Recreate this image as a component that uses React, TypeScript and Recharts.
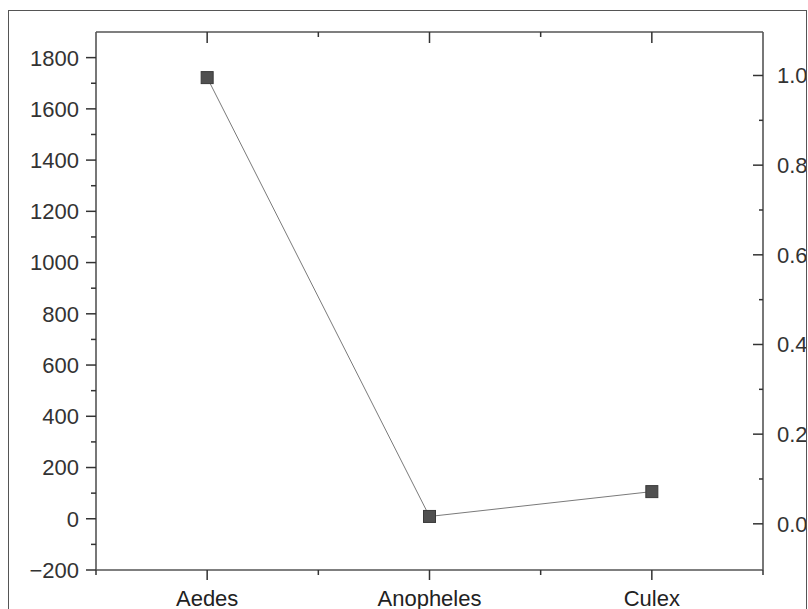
import { LineChart, Line, XAxis, YAxis } from 'recharts'

const categories = ['Aedes', 'Anopheles', 'Culex']
const counts = [1722, 9, 106]

const leftTicks = [-200, -100, 0, 100, 200, 300, 400, 500, 600, 700, 800, 900, 1000, 1100, 1200, 1300, 1400, 1500, 1600, 1700, 1800]
const rightTicks = [0, 0.1, 0.2, 0.3, 0.4, 0.5, 0.6, 0.7, 0.8, 0.9, 1.0]
const xTicks = [0.5, 1, 1.5, 2, 2.5, 3, 3.5]

const data = categories.map((name, i) => ({ pos: i + 1, name, count: counts[i] }))

const FONT = '"Liberation Sans", Arial, sans-serif'
const TICK = '#333'
const AXIS = '#555'

function LeftTick({ x, y, payload }: any) {
  const v = payload.value
  const major = v % 200 === 0
  return (
    <g>
      <line x1={x - (major ? 10 : 5)} x2={x} y1={y} y2={y} stroke={TICK} strokeWidth={1.5} />
      {major && (
        <text x={x - 17} y={y} dy="0.36em" textAnchor="end" fontFamily={FONT} fontSize={22} fill="#333">
          {v < 0 ? `\u2212${-v}` : v}
        </text>
      )}
    </g>
  )
}

// right axis: ticks point into the plot, labels sit outside
function RightTick({ x, y, payload }: any) {
  const v = payload.value
  const major = Math.round(v * 10) % 2 === 0
  return (
    <g>
      <line x1={x - (major ? 10 : 4)} x2={x} y1={y} y2={y} stroke={TICK} strokeWidth={1.5} />
      {major && (
        <text x={x + 14} y={y} dy="0.36em" textAnchor="start" fontFamily={FONT} fontSize={22} fill="#333">
          {v.toFixed(1)}
        </text>
      )}
    </g>
  )
}

function BottomTick({ x, y, payload }: any) {
  const v = payload.value
  const major = Number.isInteger(v)
  return (
    <g>
      <line x1={x} x2={x} y1={y} y2={y + (major ? 10 : 5)} stroke={TICK} strokeWidth={1.5} />
      {major && (
        <text x={x} y={y + 36} textAnchor="middle" fontFamily={FONT} fontSize={22} fill="#222">
          {categories[v - 1]}
        </text>
      )}
    </g>
  )
}

function TopTick({ x, y, payload }: any) {
  const v = payload.value
  if (v === 0.5 || v === 3.5) return <g />
  const major = Number.isInteger(v)
  return <line x1={x} x2={x} y1={y} y2={y + (major ? 11 : 5)} stroke={TICK} strokeWidth={1.5} />
}

function SquareDot({ cx, cy }: any) {
  return <rect x={cx - 6} y={cy - 6} width={12} height={12} fill="#505050" stroke="#3a3a3a" strokeWidth={1} />
}

export default function App() {
  return (
    <div style={{ position: 'absolute', left: 0, top: 0, width: 808, height: 609, overflow: 'hidden', background: '#fff' }}>
      <div
        style={{
          position: 'absolute',
          left: 8,
          top: 10,
          width: 799,
          height: 640,
          boxSizing: 'border-box',
          border: '1px solid #555',
          overflow: 'hidden',
        }}
      >
        <div style={{ position: 'absolute', left: -9, top: -11 }}>
          <LineChart width={808} height={609} data={data} margin={{ top: 30, right: 0, bottom: 0, left: 36 }}>
            <XAxis
              xAxisId="bottom"
              dataKey="pos"
              type="number"
              domain={[0.5, 3.5]}
              ticks={xTicks}
              height={39}
              tickSize={0}
              tickMargin={0}
              tickLine={false}
              axisLine={{ stroke: AXIS, strokeWidth: 1.6 }}
              tick={(p: any) => <BottomTick {...p} />}
              interval={0}
            />
            <XAxis
              xAxisId="top"
              dataKey="pos"
              orientation="top"
              type="number"
              domain={[0.5, 3.5]}
              ticks={xTicks}
              height={2}
              tickSize={0}
              tickMargin={0}
              tickLine={false}
              axisLine={{ stroke: AXIS, strokeWidth: 1.6 }}
              tick={(p: any) => <TopTick {...p} />}
              interval={0}
            />
            <YAxis
              yAxisId="left"
              type="number"
              domain={[-200, 1900]}
              ticks={leftTicks}
              width={60}
              tickSize={0}
              tickMargin={0}
              tickLine={false}
              axisLine={{ stroke: AXIS, strokeWidth: 1.6 }}
              tick={(p: any) => <LeftTick {...p} />}
              interval={0}
            />
            <YAxis
              yAxisId="right"
              orientation="right"
              type="number"
              domain={[-0.103, 1.097]}
              allowDataOverflow
              ticks={rightTicks}
              width={45}
              tickSize={0}
              tickMargin={0}
              tickLine={false}
              axisLine={{ stroke: AXIS, strokeWidth: 1.6 }}
              tick={(p: any) => <RightTick {...p} />}
              interval={0}
            />
            {/* invisible series that only links the top and right axes */}
            <Line
              xAxisId="top"
              yAxisId="right"
              dataKey="count"
              stroke="none"
              dot={false}
              activeDot={false}
              legendType="none"
              isAnimationActive={false}
            />
            <Line
              xAxisId="bottom"
              yAxisId="left"
              dataKey="count"
              type="linear"
              stroke="#7a7a7a"
              strokeWidth={1}
              dot={(p: any) => <SquareDot key={p.index} {...p} />}
              activeDot={false}
              isAnimationActive={false}
            />
          </LineChart>
        </div>
      </div>
    </div>
  )
}
